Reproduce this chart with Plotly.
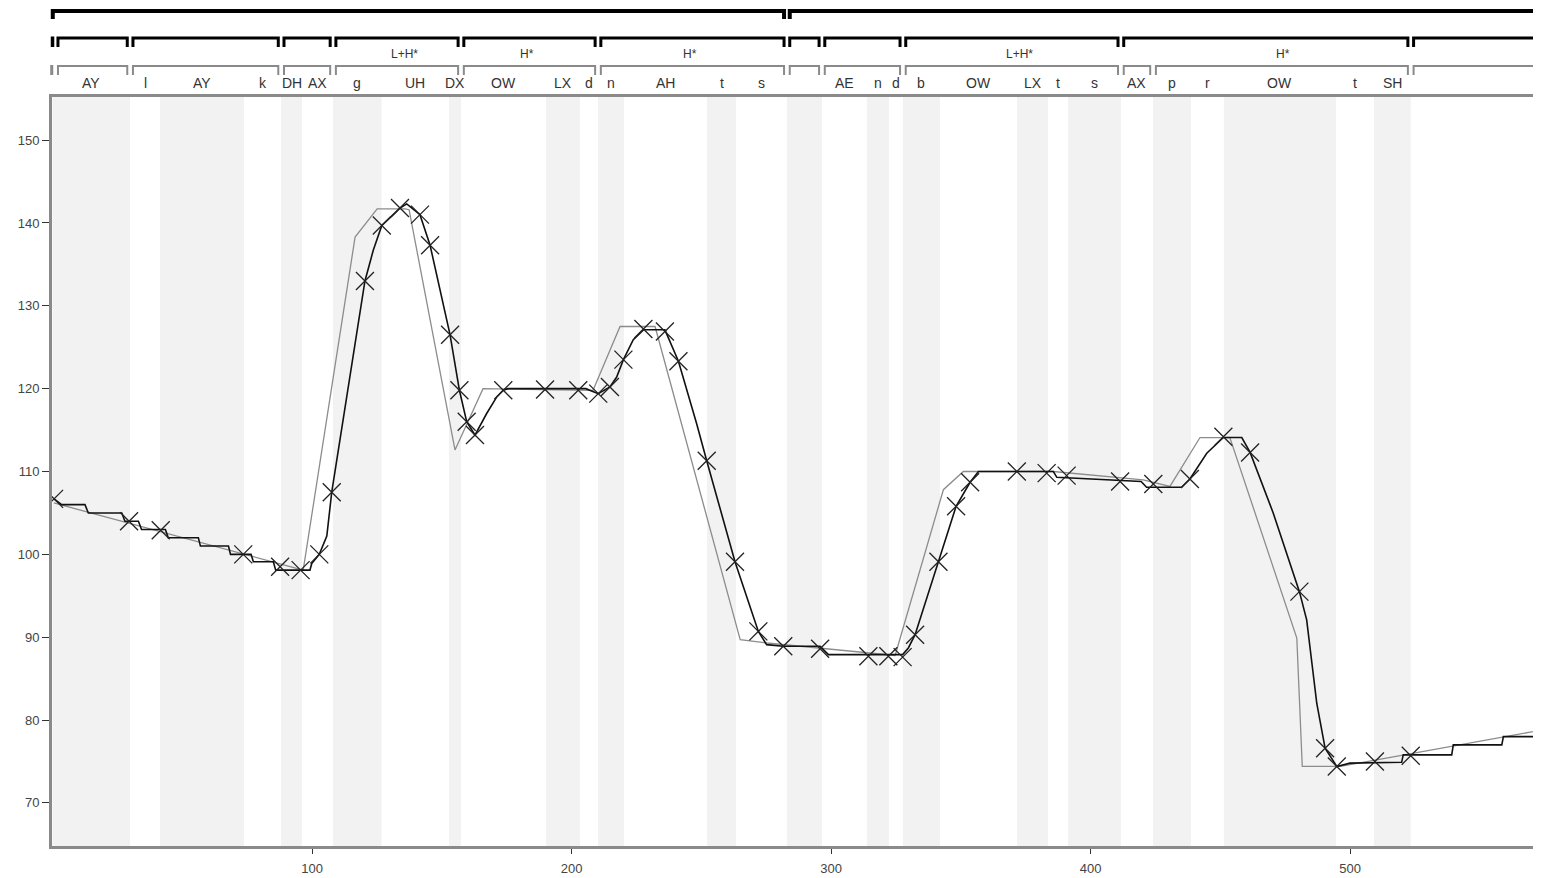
import plotly.graph_objects as go

# ---------------- data ----------------
# phone segmentation (boundaries in time units) and labels
phone_labels = ["AY", "l", "AY", "k", "DH", "AX", "g", "UH", "DX", "OW",
                "LX", "d", "n", "AH", "t", "s", "",
                "AE", "n", "d", "b", "OW", "LX", "t", "s",
                "AX", "p", "r", "OW", "t", "SH", ""]
phone_bounds = [0, 29.9, 41.4, 73.8, 88.1, 96.1, 108.1, 126.8, 152.8, 157.4,
                190.2, 203.3, 210.2, 220.2, 252.2, 263.4, 283.0,
                296.5, 313.8, 322.3, 327.7, 342.0, 371.7, 383.6, 391.3,
                411.7, 424.1, 438.7, 451.4, 494.6, 509.2, 523.4, 600]

# word tier, accent-phrase tier, intonation-phrase tier
word_bounds = [-1.6, 1.0, 29.9, 88.1, 108.1, 157.4, 210.2, 283.0, 296.5,
               327.7, 411.7, 424.1, 523.4, 600]
phrase_bounds = [-1.0, 1.0, 29.9, 88.1, 108.1, 157.4, 210.2, 283.0, 296.5,
                 327.7, 411.7, 523.4, 600]
ip_bounds = [-1.0, 283.0, 600]

accent_labels = ["L+H*", "H*", "H*", "L+H*", "H*"]
accent_x = [135.8, 182.8, 245.7, 372.8, 474.2]

# measured pitch contour (black)
f0_x = [0.6, 3.5, 12.5, 13.8, 26.7, 27.9, 33.1, 34.3, 43.5, 44.6, 56.2, 57.0,
        67.8, 68.6, 76.5, 77.4, 85.1, 86.0, 99.2, 99.9, 102.8, 105.7, 107.6,
        120.4, 123.6, 126.9, 131.3, 133.9, 136.5, 141.6, 145.5, 153.2, 156.8,
        159.6, 162.8, 167.3, 171.2, 173.7, 175.5, 205.5, 210.3, 214.8, 217.4,
        220.0, 223.8, 227.7, 236.0, 241.2, 248.2, 252.1, 263.0, 272.0, 275.2,
        281.6, 295.8, 299.0, 327.6, 329.8, 332.4, 341.4, 348.2, 353.6, 356.8,
        385.7, 387.0, 419.5, 421.6, 435.1, 438.3, 444.8, 451.2, 458.3, 461.5,
        470.4, 480.5, 483.3, 487.2, 490.4, 494.9, 500.0, 519.9, 520.5, 539.2,
        539.8, 558.5, 559.1, 574.0]
f0_y = [106.7, 106.0, 106.0, 105.0, 105.0, 104.0, 104.0, 103.0, 103.0, 102.0,
        102.0, 101.0, 101.0, 100.0, 100.0, 99.1, 99.1, 98.1, 98.1, 98.9, 100.0,
        102.2, 107.5, 133.0, 136.7, 139.7, 141.0, 141.8, 142.3, 141.0, 137.3,
        126.5, 119.8, 116.0, 114.4, 117.0, 119.0, 119.8, 120.0, 120.0, 119.4,
        120.2, 121.4, 123.5, 125.9, 127.1, 127.1, 123.3, 115.8, 111.3, 99.1,
        90.7, 89.1, 88.9, 88.9, 87.9, 87.9, 88.7, 90.3, 99.1, 105.8, 108.7,
        110.0, 110.0, 109.3, 108.8, 108.1, 108.1, 109.1, 112.2, 114.1, 114.1,
        112.3, 105.0, 95.5, 92.1, 82.0, 76.6, 74.4, 74.8, 74.9, 75.8, 75.8,
        77.0, 77.0, 78.0, 78.0]

# sample markers on the contour
mark_x = [0.6, 29.5, 41.7, 73.5, 87.7, 95.6, 102.8, 107.6, 120.4, 126.9,
          133.9, 141.6, 145.5, 153.2, 156.8, 159.6, 162.8, 173.7, 189.8, 202.6,
          210.3, 214.8, 220.0, 227.7, 236.0, 241.2, 252.1, 263.0, 272.0, 281.6,
          295.8, 314.4, 322.1, 327.6, 332.4, 341.4, 348.2, 353.6, 371.6, 383.1,
          390.8, 411.4, 424.2, 438.3, 451.2, 461.5, 480.5, 490.4, 494.9, 509.6,
          523.4]
mark_y = [106.7, 104.0, 102.9, 100.0, 98.5, 98.1, 100.0, 107.5, 133.0, 139.7,
          141.8, 141.0, 137.3, 126.5, 119.8, 116.0, 114.4, 119.8, 119.9, 119.8,
          119.4, 120.2, 123.5, 127.2, 126.9, 123.3, 111.3, 99.1, 90.7, 88.9,
          88.6, 87.7, 87.7, 87.6, 90.3, 99.1, 105.8, 108.7, 110.0, 109.8,
          109.5, 108.8, 108.5, 109.1, 114.2, 112.3, 95.5, 76.6, 74.4, 75.0,
          75.7]

# stylized contour (gray)
styl_x = [0.5, 96.6, 116.6, 125.1, 135.8, 137.4, 155.1, 165.9, 208.3, 218.7,
          232.2, 265.0, 275.3, 324.7, 343.3, 351.0, 385.6, 420.3, 430.6, 442.2,
          453.7, 479.5, 481.6, 496.2, 574.0]
styl_y = [106.2, 98.1, 138.3, 141.7, 141.7, 141.6, 112.6, 120.0, 119.8, 127.5,
          127.5, 89.7, 89.3, 87.8, 107.8, 110.0, 110.0, 109.0, 108.2, 114.1,
          114.1, 89.9, 74.4, 74.4, 78.8]

y_ticks = [70, 80, 90, 100, 110, 120, 130, 140, 150]
x_ticks = [100, 200, 300, 400, 500]

# ---------------- layout helpers ----------------
# page body has an 8px margin, so the figure starts at (8, 8) in the window
OFF = 8
W, H = 1541 - OFF, 878 - OFF
M_L, M_R, M_T = 52 - OFF, 0, 97 - OFF
PLOT_BOTTOM_PX = 846
M_B = OFF + H - PLOT_BOTTOM_PX
PLOT_H = PLOT_BOTTOM_PX - 97
X_RANGE = [-0.2, 573.6]


def paper_y(py):
    # py: pixel row in the window
    return (PLOT_BOTTOM_PX - py) / PLOT_H


def paper_x(x):
    return (x - X_RANGE[0]) / (X_RANGE[1] - X_RANGE[0])


INSET = 1.1
FONT = "Liberation Sans, Arial, sans-serif"

fig = go.Figure()

fig.add_trace(go.Scatter(x=styl_x, y=styl_y, mode="lines",
                         line=dict(color="#8c8c8c", width=1.3),
                         hoverinfo="skip", showlegend=False))
fig.add_trace(go.Scatter(x=f0_x, y=f0_y, mode="lines",
                         line=dict(color="#111111", width=1.6),
                         showlegend=False))
fig.add_trace(go.Scatter(x=mark_x, y=mark_y, mode="markers",
                         marker=dict(symbol="x-thin", size=18,
                                     line=dict(color="#222222", width=1.3)),
                         showlegend=False))

shapes = []
annotations = []

# alternating phone bands + phone labels
for i, lab in enumerate(phone_labels):
    x0, x1 = phone_bounds[i], phone_bounds[i + 1]
    if i % 2 == 0:
        shapes.append(dict(type="rect", xref="x", yref="paper", x0=x0, x1=x1,
                           y0=0, y1=1, fillcolor="#f2f2f2", line_width=0,
                           layer="below"))
    if lab:
        annotations.append(dict(x=(x0 + x1) / 2, y=paper_y(83), xref="x",
                                yref="paper", text=lab, showarrow=False,
                                font=dict(family=FONT, size=14, color="#333333"),
                                xanchor="center", yanchor="middle"))


def brackets(bounds, py_top, py_bot, color, width):
    for i in range(len(bounds) - 1):
        a = paper_x(bounds[i] + INSET)
        b = paper_x(min(bounds[i + 1] - INSET, 580))
        yt, yb = paper_y(py_top), paper_y(py_bot)
        shapes.append(dict(type="path", xref="paper", yref="paper",
                           path=f"M {a},{yb} L {a},{yt} L {b},{yt} L {b},{yb}",
                           line=dict(color=color, width=width)))


brackets(word_bounds, 66, 75, "#8a8a8a", 2)
brackets(phrase_bounds, 38, 47, "#000000", 3)
brackets(ip_bounds, 11, 19, "#000000", 4)

for lab, ax in zip(accent_labels, accent_x):
    annotations.append(dict(x=ax, y=paper_y(54), xref="x", yref="paper",
                            text=lab, showarrow=False,
                            font=dict(family=FONT, size=12, color="#333333"),
                            xanchor="center", yanchor="middle"))

fig.update_layout(
    width=W, height=H,
    margin=dict(l=M_L, r=M_R, t=M_T, b=M_B, pad=0),
    paper_bgcolor="white", plot_bgcolor="white",
    shapes=shapes, annotations=annotations,
    showlegend=False,
    xaxis=dict(range=X_RANGE, tickvals=x_ticks, ticks="outside",
               ticklen=5, tickcolor="#333", showgrid=False, zeroline=False,
               showline=True, linecolor="#8a8a8a", linewidth=3, mirror=True,
               ticklabelstandoff=3,
               tickfont=dict(family=FONT, size=13, color="#444")),
    yaxis=dict(range=[64.8, 155.2], tickvals=y_ticks, ticks="outside",
               ticklen=7, tickcolor="#333", showgrid=False, zeroline=False,
               showline=True, linecolor="#8a8a8a", linewidth=3,
               tickfont=dict(family=FONT, size=13, color="#444")),
)

fig.write_html("out.html")
